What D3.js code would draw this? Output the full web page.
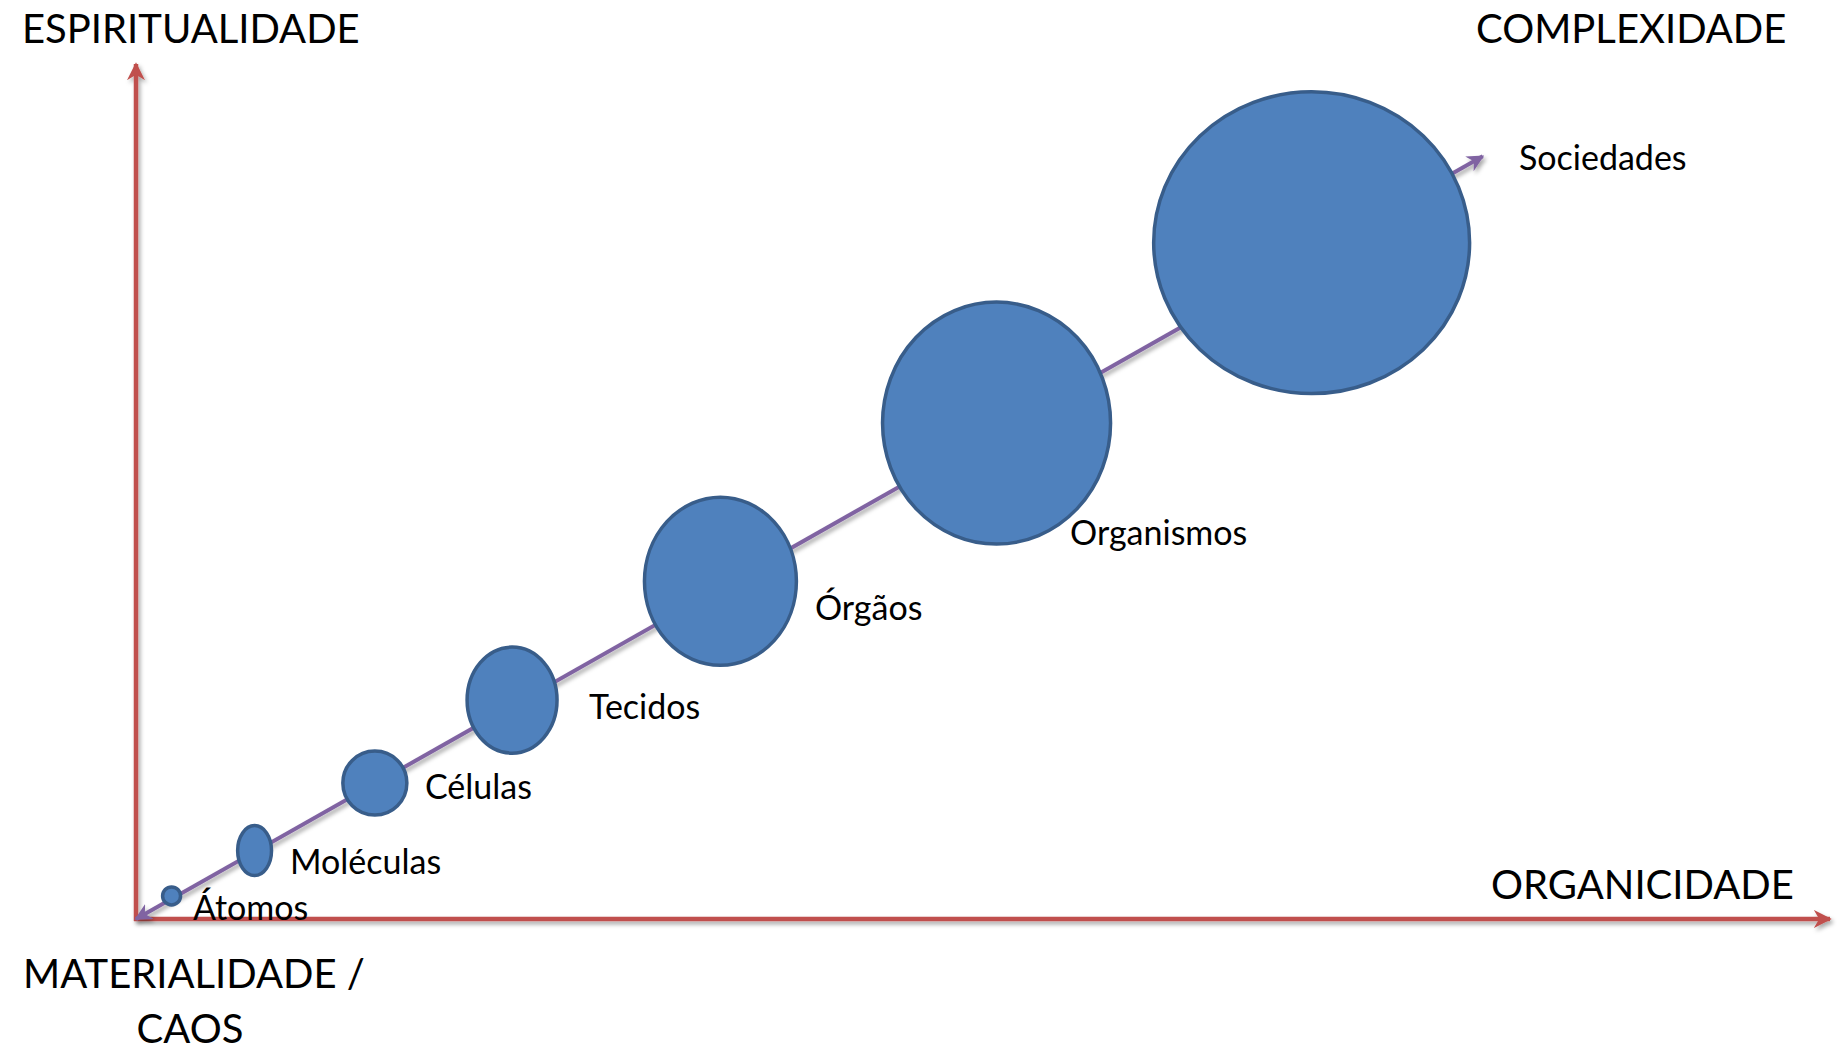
<!DOCTYPE html>
<html>
<head>
<meta charset="utf-8">
<script src="https://cdn.jsdelivr.net/npm/d3@7"></script>
<style>
  html, body { margin: 0; padding: 0; background: #fff; }
  svg { display: block; }
</style>
</head>
<body>
<svg id="chart"></svg>
<script>
(function () {
    'use strict';

    // stages along the complexity arrow
    const stages = ["Átomos", "Moléculas", "Células", "Tecidos", "Órgãos", "Organismos", "Sociedades"];
    // centre of each stage (organicidade, espiritualidade) in axis units 0..100
    const organicidade = [2.1, 7.0, 14.1, 22.2, 34.5, 50.8, 69.4];
    const espiritualidade = [2.7, 8.0, 15.9, 25.6, 39.5, 58.0, 79.1];
    // extent of each stage (width along x, height along y), same units
    const extentX = [1.06, 2.0, 3.78, 5.31, 8.97, 13.46, 18.65];
    const extentY = [2.1, 5.85, 7.49, 12.4, 19.65, 28.3, 35.3];
    // where each stage label sits, same units
    const labelX = [3.36, 9.09, 17.06, 26.74, 40.08, 55.14, 81.64];
    const labelY = [-0.1, 5.25, 14.0, 23.4, 34.95, 43.75, 87.6];
    // end point of the complexity arrow
    const trend = [[0, 0], [79.5, 89.2]];

    const width = 1841;
    const height = 1051;

    const svg = d3.select("#chart")
        .attr("width", width)
        .attr("height", height);

    const x = d3.scaleLinear().domain([0, 100]).range([136, 1830]);
    const y = d3.scaleLinear().domain([0, 100]).range([919, 64]);

    const defs = svg.append("defs");

    const shadow = defs.append("filter")
        .attr("id", "shadow")
        .attr("x", "-20%").attr("y", "-20%")
        .attr("width", "140%").attr("height", "140%");
    shadow.append("feDropShadow")
        .attr("dx", 2).attr("dy", 3)
        .attr("stdDeviation", 2)
        .attr("flood-color", "#000")
        .attr("flood-opacity", 0.35);

    function marker(id, color, w, h) {
        defs.append("marker")
            .attr("id", id)
            .attr("viewBox", "0 -5 10 10")
            .attr("refX", 9)
            .attr("refY", 0)
            .attr("markerUnits", "userSpaceOnUse")
            .attr("markerWidth", w)
            .attr("markerHeight", h)
            .attr("orient", "auto-start-reverse")
            .append("path")
            .attr("d", "M0,-5L10,0L0,5L3,0Z")
            .attr("fill", color);
    }
    marker("arrRed", "#C0504D", 18, 18);
    marker("arrPurple", "#8064A2", 17, 17);

    const axes = svg.append("g").attr("filter", "url(#shadow)");

    // vertical axis
    axes.append("line")
        .attr("x1", x(0)).attr("y1", y(0) + 2)
        .attr("x2", x(0)).attr("y2", y(100))
        .attr("stroke", "#C0504D")
        .attr("stroke-width", 4.5)
        .attr("marker-end", "url(#arrRed)");

    // horizontal axis
    axes.append("line")
        .attr("x1", x(0) - 2).attr("y1", y(0))
        .attr("x2", x(100)).attr("y2", y(0))
        .attr("stroke", "#C0504D")
        .attr("stroke-width", 4.5)
        .attr("marker-end", "url(#arrRed)");

    // complexity arrow
    svg.append("line")
        .attr("x1", x(trend[0][0])).attr("y1", y(trend[0][1]))
        .attr("x2", x(trend[1][0])).attr("y2", y(trend[1][1]))
        .attr("stroke", "#8064A2")
        .attr("stroke-width", 4)
        .attr("filter", "url(#shadow)")
        .attr("marker-start", "url(#arrPurple)")
        .attr("marker-end", "url(#arrPurple)");

    const data = stages.map((name, i) => ({
        name,
        cx: organicidade[i],
        cy: espiritualidade[i],
        w: extentX[i],
        h: extentY[i],
        lx: labelX[i],
        ly: labelY[i]
    }));

    svg.append("g")
        .selectAll("ellipse")
        .data(data)
        .join("ellipse")
        .attr("cx", d => x(d.cx))
        .attr("cy", d => y(d.cy))
        .attr("rx", d => x(d.w / 2) - x(0))
        .attr("ry", d => y(0) - y(d.h / 2))
        .attr("fill", "#4F81BD")
        .attr("stroke", "#385D8A")
        .attr("stroke-width", 3.5);

    svg.append("g")
        .style("font-family", "Lato, 'Open Sans', sans-serif")
        .style("font-size", "34px")
        .attr("fill", "#000")
        .selectAll("text")
        .data(data)
        .join("text")
        .attr("x", d => x(d.lx))
        .attr("y", d => y(d.ly))
        .text(d => d.name);

    const titles = svg.append("g")
        .style("font-family", "Lato, 'Open Sans', sans-serif")
        .style("font-size", "40px")
        .attr("fill", "#000");

    titles.append("text").attr("x", 22).attr("y", 43).text("ESPIRITUALIDADE");
    titles.append("text").attr("x", 1476).attr("y", 43).text("COMPLEXIDADE");
    titles.append("text").attr("x", 1491).attr("y", 899).text("ORGANICIDADE");
    titles.append("text").attr("x", 194).attr("y", 988)
        .attr("text-anchor", "middle").text("MATERIALIDADE /");
    titles.append("text").attr("x", 190).attr("y", 1043)
        .attr("text-anchor", "middle").text("CAOS");
}());
</script>
</body>
</html>
